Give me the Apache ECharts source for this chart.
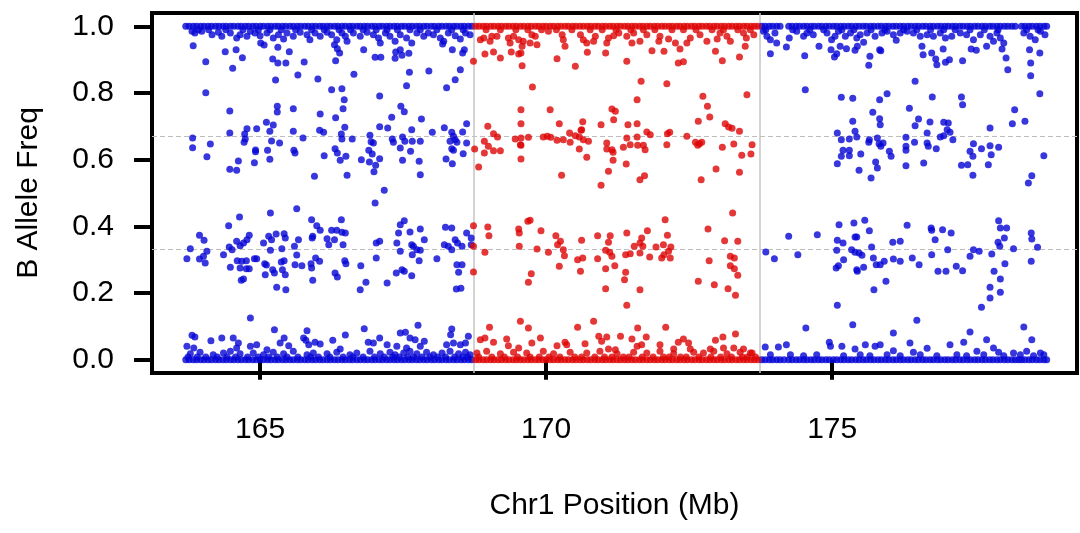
<!DOCTYPE html>
<html><head><meta charset="utf-8">
<script src="https://cdn.jsdelivr.net/npm/echarts@6/dist/echarts.min.js"></script>
<style>html,body{margin:0;padding:0;background:#fff}#c{width:1080px;height:533px}</style>
</head><body><div id="c"></div>
<script>
// ---- axis / reference values ----
const xTicks = [165, 170, 175];
const yTicks = [0, 0.2, 0.4, 0.6, 0.8, 1.0];
const hetLines = [0.333, 0.667];
const regionBounds = [168.73, 173.73];

// ---- dense homozygous bands (x positions, drawn at BAF 1.0 and 0.0) ----
const blueLeftBandX = [163.70,163.76,163.83,163.89,163.96,164.02,164.09,164.15,164.22,164.28,164.35,164.41,164.48,164.54,164.61,164.67,164.74,164.80,164.87,164.93,165.00,165.06,165.13,165.19,165.26,165.32,165.39,165.45,165.52,165.58,165.65,165.71,165.78,165.84,165.91,165.97,166.04,166.10,166.17,166.23,166.30,166.36,166.43,166.49,166.56,166.62,166.69,166.75,166.82,166.88,166.95,167.01,167.08,167.14,167.21,167.27,167.34,167.40,167.47,167.53,167.60,167.66,167.73,167.79,167.86,167.92,167.99,168.05,168.12,168.18,168.25,168.31,168.38,168.44,168.51,168.57,168.64,168.70];
const redBandX = [168.77,168.83,168.90,168.96,169.03,169.09,169.16,169.22,169.29,169.35,169.42,169.48,169.55,169.61,169.68,169.74,169.81,169.87,169.94,170.00,170.07,170.13,170.20,170.26,170.33,170.39,170.46,170.52,170.59,170.65,170.72,170.78,170.85,170.91,170.98,171.04,171.11,171.17,171.24,171.30,171.37,171.43,171.50,171.56,171.63,171.69,171.76,171.82,171.89,171.95,172.02,172.08,172.15,172.21,172.28,172.34,172.41,172.47,172.54,172.60,172.67,172.73,172.80,172.86,172.93,172.99,173.06,173.12,173.19,173.25,173.32,173.38,173.45,173.51,173.58,173.64,173.70];
const blueRightBandX = [173.77,173.83,173.90,173.96,174.03,174.09,174.24,174.30,174.37,174.43,174.50,174.56,174.63,174.69,174.76,174.82,174.89,174.95,175.02,175.08,175.15,175.21,175.28,175.34,175.41,175.47,175.54,175.60,175.67,175.73,175.80,175.86,175.93,175.99,176.06,176.12,176.19,176.25,176.32,176.38,176.45,176.51,176.58,176.64,176.71,176.77,176.84,176.90,176.97,177.03,177.10,177.16,177.23,177.29,177.36,177.42,177.49,177.55,177.62,177.68,177.75,177.81,177.88,177.94,178.01,178.07,178.14,178.20,178.31,178.37,178.44,178.50,178.57,178.63,178.70,178.75];

// ---- SNPs hugging the bands (x positions; near 0.99 and near 0.008) ----
const blueLeftNearTopX = [163.92,164.10,164.40,164.70,164.97,165.17,165.37,165.62,165.90,166.12,166.38,166.58,166.80,167.03,167.22,167.40,167.62,167.80,168.09,168.35,168.55];
const blueLeftNearBottomX = [163.74,163.90,164.05,164.25,164.42,164.57,164.78,164.97,165.15,165.30,165.47,165.66,165.88,166.02,166.22,166.45,166.62,166.80,167.00,167.17,167.32,167.43,167.58,167.68,167.83,167.97,168.10,168.24,168.40,168.54,168.63];
const redNearTopX = [168.95,169.20,169.47,169.68,169.92,170.18,170.45,170.77,170.98,171.22,171.48,171.70,171.90,172.20,172.40,172.62,172.90,173.10,173.35,173.57];
const redNearBottomX = [168.82,169.05,169.27,169.50,169.72,169.88,170.05,170.24,170.50,170.62,170.85,171.02,171.15,171.35,171.45,171.68,171.87,172.05,172.15,172.35,172.45,172.67,172.88,173.05,173.24,173.43,173.52,173.66];
const blueRightNearTopX = [173.84,174.31,174.61,174.85,175.17,175.38,175.68,175.92,176.25,176.48,176.72,176.95,177.15,177.41,177.66,177.90,178.40,178.60];

// ---- individual SNPs outside the red region (blue) ----
const blueLeftUpper = [[163.83,0.942],[164.05,0.894],[164.39,0.924],[164.58,0.93],[164.69,0.906],[164.52,0.874],[165.01,0.95],[165.07,0.944],[165.22,0.902],[165.31,0.937],[165.51,0.924],[165.31,0.89],[165.45,0.89],[165.77,0.893],[165.27,0.839],[165.66,0.854],[166.01,0.842],[166.32,0.897],[166.30,0.945],[166.39,0.92],[166.35,0.933],[166.81,0.93],[166.64,0.856],[167.01,0.907],[167.11,0.907],[167.37,0.923],[167.45,0.93],[167.48,0.913],[167.60,0.919],[167.36,0.904],[167.61,0.862],[167.95,0.866],[168.19,0.947],[168.36,0.93],[168.54,0.92],[168.57,0.93],[168.50,0.87],[168.41,0.84],[168.26,0.816],[167.56,0.822],[164.05,0.801],[166.43,0.813],[166.47,0.78],[166.25,0.81],[167.09,0.791],[164.47,0.746],[165.30,0.76],[165.30,0.743],[165.58,0.753],[166.45,0.753],[166.05,0.737],[166.32,0.726],[167.46,0.76],[167.52,0.744],[167.30,0.727],[167.82,0.722],[165.11,0.712],[165.23,0.704],[164.77,0.693],[164.94,0.693],[165.17,0.685],[165.58,0.685],[164.47,0.68],[164.73,0.677],[164.74,0.662],[164.72,0.652],[165.20,0.656],[165.34,0.65],[163.82,0.665],[163.82,0.636],[164.13,0.647],[164.07,0.609],[164.62,0.596],[164.47,0.571],[164.59,0.568],[164.92,0.629],[164.92,0.624],[165.13,0.628],[165.17,0.601],[164.90,0.591],[165.59,0.628],[165.61,0.62],[165.75,0.665],[166.04,0.688],[166.11,0.682],[166.12,0.612],[165.95,0.55],[166.31,0.633],[166.35,0.62],[166.50,0.61],[166.40,0.598],[166.42,0.677],[166.43,0.662],[166.48,0.697],[166.61,0.662],[166.52,0.553],[166.92,0.673],[166.94,0.654],[166.98,0.65],[166.90,0.628],[166.96,0.617],[166.77,0.60],[166.91,0.593],[167.02,0.583],[166.99,0.564],[167.09,0.699],[167.23,0.695],[167.09,0.603],[167.17,0.508],[167.31,0.662],[167.33,0.652],[167.49,0.668],[167.53,0.655],[167.45,0.635],[167.65,0.69],[167.66,0.655],[167.80,0.655],[167.63,0.625],[167.49,0.598],[167.78,0.595],[167.80,0.555],[168.01,0.682],[168.22,0.696],[168.35,0.682],[168.38,0.67],[168.54,0.683],[168.61,0.708],[168.32,0.655],[168.41,0.66],[168.44,0.652],[168.35,0.633],[168.38,0.628],[168.55,0.618],[168.61,0.65],[168.25,0.602],[168.36,0.588]];
const blueLeftTopFringe = [[163.81,0.985],[163.86,0.98],[163.98,0.985],[164.16,0.975],[164.27,0.982],[164.33,0.97],[164.48,0.98],[164.59,0.965],[164.65,0.975],[164.77,0.97],[164.83,0.985],[164.91,0.98],[165.00,0.972],[165.12,0.98],[165.23,0.965],[165.32,0.975],[165.41,0.962],[165.47,0.98],[165.58,0.97],[165.70,0.982],[165.82,0.975],[165.87,0.96],[165.96,0.98],[166.05,0.97],[166.17,0.982],[166.25,0.975],[166.34,0.96],[166.43,0.98],[166.49,0.97],[166.52,0.955],[166.63,0.98],[166.75,0.97],[166.87,0.982],[166.98,0.975],[167.07,0.965],[167.10,0.95],[167.19,0.98],[167.27,0.97],[167.36,0.955],[167.45,0.975],[167.56,0.965],[167.65,0.95],[167.74,0.98],[167.86,0.97],[167.94,0.98],[168.03,0.975],[168.15,0.965],[168.21,0.955],[168.29,0.98],[168.41,0.972],[168.50,0.962],[168.59,0.98],[168.67,0.975]];
const blueLeftLower = [[164.64,0.428],[165.18,0.44],[165.64,0.453],[167.01,0.47],[165.90,0.42],[165.99,0.402],[166.05,0.388],[166.42,0.42],[166.25,0.388],[166.34,0.388],[166.43,0.382],[166.49,0.38],[164.45,0.402],[163.94,0.373],[164.02,0.358],[163.78,0.333],[163.72,0.303],[163.94,0.302],[164.04,0.29],[164.01,0.31],[164.07,0.325],[164.36,0.315],[164.46,0.338],[164.51,0.33],[164.59,0.355],[164.65,0.342],[164.71,0.35],[164.77,0.36],[164.81,0.373],[164.60,0.297],[164.68,0.295],[164.76,0.297],[164.48,0.277],[164.65,0.275],[164.76,0.273],[164.81,0.273],[164.67,0.238],[164.71,0.242],[164.90,0.303],[164.94,0.303],[165.06,0.35],[165.15,0.37],[165.20,0.36],[165.28,0.377],[165.08,0.288],[165.11,0.284],[165.18,0.328],[165.22,0.27],[165.25,0.26],[165.09,0.255],[165.29,0.217],[165.38,0.333],[165.42,0.378],[165.44,0.365],[165.42,0.297],[165.37,0.293],[165.39,0.27],[165.44,0.255],[165.45,0.21],[165.60,0.34],[165.67,0.36],[165.64,0.314],[165.61,0.285],[165.73,0.282],[165.89,0.288],[165.90,0.275],[165.91,0.365],[165.92,0.37],[165.97,0.305],[166.04,0.295],[165.92,0.238],[166.17,0.363],[166.20,0.345],[166.30,0.36],[166.45,0.345],[166.31,0.26],[166.35,0.248],[166.48,0.297],[166.50,0.288],[166.76,0.282],[166.75,0.21],[166.85,0.232],[167.03,0.35],[167.09,0.355],[167.03,0.305],[167.22,0.23],[167.38,0.26],[167.48,0.27],[167.52,0.265],[167.65,0.252],[167.42,0.38],[167.45,0.405],[167.52,0.417],[167.62,0.383],[167.39,0.35],[167.45,0.325],[167.65,0.345],[167.68,0.34],[167.74,0.33],[167.80,0.328],[167.66,0.315],[167.78,0.297],[167.80,0.392],[167.87,0.36],[168.09,0.303],[168.24,0.397],[168.35,0.395],[168.22,0.345],[168.29,0.34],[168.35,0.33],[168.41,0.36],[168.45,0.35],[168.53,0.34],[168.61,0.38],[168.69,0.365],[168.69,0.345],[168.44,0.285],[168.53,0.285],[168.47,0.262],[168.43,0.212],[168.51,0.214]];
const blueLeftBottomFringe = [[164.83,0.125],[165.25,0.09],[165.82,0.087],[166.82,0.093],[167.76,0.103],[168.35,0.092],[168.33,0.075],[163.81,0.073],[163.86,0.068],[163.72,0.04],[163.84,0.035],[164.14,0.057],[164.33,0.065],[164.53,0.065],[164.62,0.05],[164.59,0.035],[164.83,0.04],[164.94,0.045],[165.12,0.03],[165.35,0.05],[165.42,0.065],[165.50,0.042],[165.76,0.065],[165.80,0.058],[165.85,0.045],[165.96,0.052],[166.05,0.047],[166.27,0.058],[166.40,0.032],[166.49,0.074],[166.89,0.052],[166.98,0.05],[167.09,0.065],[167.22,0.045],[167.45,0.08],[167.54,0.082],[167.62,0.065],[167.71,0.06],[167.87,0.055],[167.39,0.04],[167.56,0.035],[167.80,0.04],[168.26,0.045],[168.38,0.05],[168.50,0.045],[168.59,0.05],[168.64,0.07],[163.78,0.018],[163.95,0.022],[164.18,0.015],[164.36,0.02],[164.48,0.025],[164.65,0.018],[164.88,0.02],[165.06,0.015],[165.23,0.022],[165.41,0.018],[165.58,0.025],[165.82,0.015],[165.93,0.02],[166.17,0.018],[166.34,0.022],[166.57,0.015],[166.69,0.02],[166.92,0.025],[167.10,0.018],[167.27,0.022],[167.36,0.015],[167.51,0.02],[167.62,0.025],[167.74,0.018],[167.91,0.022],[168.03,0.015],[168.18,0.02],[168.32,0.025],[168.47,0.018],[168.59,0.022],[168.67,0.015]];
const blueRightUpper = [[173.92,0.918],[174.20,0.938],[174.52,0.912],[174.53,0.81],[174.77,0.94],[174.98,0.93],[175.04,0.908],[175.08,0.918],[175.14,0.94],[175.25,0.933],[175.40,0.928],[175.44,0.94],[175.55,0.952],[175.66,0.91],[175.64,0.883],[175.83,0.93],[175.85,0.927],[176.12,0.958],[176.45,0.835],[176.57,0.94],[176.59,0.915],[176.74,0.92],[176.81,0.902],[176.83,0.885],[176.94,0.932],[176.98,0.892],[177.05,0.9],[177.28,0.897],[177.43,0.932],[177.52,0.928],[177.70,0.94],[177.97,0.932],[178.04,0.905],[178.07,0.87],[178.45,0.93],[178.47,0.89],[178.47,0.852],[178.63,0.92],[178.63,0.798],[175.16,0.787],[175.36,0.784],[175.83,0.78],[175.96,0.798],[175.71,0.742],[176.35,0.754],[176.75,0.788],[177.26,0.788],[177.28,0.765],[178.19,0.75],[178.15,0.708],[178.37,0.715],[175.36,0.715],[175.40,0.685],[175.43,0.668],[175.83,0.723],[175.84,0.705],[175.79,0.665],[175.09,0.68],[175.16,0.66],[175.30,0.662],[175.19,0.628],[175.16,0.61],[175.30,0.628],[175.30,0.612],[175.09,0.588],[175.47,0.568],[175.50,0.617],[175.64,0.652],[175.65,0.66],[175.82,0.648],[175.85,0.64],[175.89,0.65],[176.00,0.625],[176.03,0.61],[175.76,0.593],[175.79,0.575],[175.68,0.545],[176.29,0.667],[176.29,0.64],[176.29,0.628],[176.44,0.652],[176.29,0.582],[176.45,0.702],[176.51,0.722],[176.71,0.713],[176.66,0.68],[176.66,0.65],[176.68,0.64],[176.82,0.633],[176.60,0.59],[176.89,0.668],[176.95,0.672],[176.95,0.712],[177.03,0.71],[177.01,0.69],[177.06,0.682],[177.11,0.66],[177.47,0.648],[177.41,0.625],[177.46,0.61],[177.61,0.633],[177.76,0.642],[177.78,0.615],[177.91,0.637],[177.26,0.583],[177.37,0.585],[177.46,0.553],[177.73,0.585],[177.76,0.695],[178.70,0.612],[178.43,0.53],[178.49,0.552]];
const blueRightTopFringe = [[173.80,0.985],[173.86,0.97],[173.92,0.96],[174.00,0.98],[174.03,0.95],[174.25,0.965],[174.38,0.985],[174.50,0.97],[174.56,0.98],[174.67,0.975],[174.91,0.98],[174.99,0.96],[175.05,0.97],[175.11,0.985],[175.23,0.97],[175.32,0.98],[175.43,0.965],[175.49,0.975],[175.61,0.98],[175.75,0.97],[175.87,0.98],[175.96,0.985],[176.07,0.975],[176.19,0.98],[176.31,0.985],[176.42,0.98],[176.54,0.97],[176.66,0.975],[176.77,0.97],[176.89,0.98],[176.98,0.965],[177.09,0.97],[177.24,0.98],[177.35,0.975],[177.47,0.96],[177.59,0.975],[177.76,0.97],[177.82,0.955],[177.88,0.98],[177.94,0.965],[178.00,0.95],[178.35,0.98],[178.46,0.97],[178.55,0.96],[178.64,0.985],[178.72,0.975]];
const blueRightLower = [[173.84,0.323],[173.99,0.303],[174.24,0.37],[174.40,0.315],[174.74,0.375],[175.12,0.405],[175.09,0.358],[175.19,0.35],[175.08,0.328],[175.20,0.3],[175.07,0.275],[175.11,0.282],[175.38,0.41],[175.40,0.368],[175.43,0.368],[175.57,0.418],[175.65,0.387],[175.34,0.33],[175.40,0.322],[175.47,0.32],[175.52,0.313],[175.55,0.277],[175.43,0.27],[175.44,0.265],[175.69,0.338],[175.72,0.305],[175.77,0.285],[175.84,0.285],[175.91,0.295],[175.73,0.21],[175.94,0.235],[176.06,0.352],[176.19,0.355],[176.07,0.302],[176.19,0.295],[176.31,0.403],[176.40,0.305],[176.52,0.285],[176.73,0.395],[176.74,0.388],[176.80,0.36],[176.93,0.39],[177.08,0.38],[176.74,0.315],[176.85,0.265],[176.99,0.265],[177.02,0.33],[177.17,0.28],[177.28,0.267],[177.41,0.31],[177.47,0.33],[177.57,0.325],[177.79,0.317],[177.83,0.265],[177.94,0.242],[177.76,0.217],[177.94,0.202],[177.76,0.185],[177.61,0.157],[177.91,0.417],[177.94,0.395],[178.05,0.395],[178.01,0.365],[177.90,0.352],[177.93,0.34],[178.02,0.288],[178.17,0.333],[178.48,0.38],[178.49,0.362],[178.59,0.337],[178.48,0.295],[175.09,0.163],[176.48,0.118],[174.54,0.095],[175.36,0.105],[178.35,0.098],[177.41,0.083],[176.07,0.08],[178.49,0.06]];
const blueRightBottomFringe = [[173.83,0.038],[174.06,0.038],[174.20,0.045],[174.95,0.052],[174.97,0.04],[175.17,0.04],[175.40,0.032],[175.58,0.045],[175.75,0.04],[175.84,0.045],[176.07,0.027],[176.36,0.05],[176.42,0.022],[176.66,0.034],[177.06,0.045],[177.30,0.052],[177.53,0.025],[177.70,0.06],[177.82,0.035],[177.91,0.022],[178.17,0.02],[178.40,0.025],[178.64,0.02],[173.92,0.015],[174.27,0.015],[174.50,0.012],[174.73,0.015],[175.20,0.012],[175.49,0.015],[175.66,0.012],[175.96,0.015],[176.19,0.012],[176.54,0.015],[176.83,0.012],[177.18,0.015],[177.35,0.012],[177.65,0.015],[178.00,0.012],[178.29,0.015],[178.52,0.012],[178.70,0.015],[174.16,0],[178.26,0]];

// ---- individual SNPs inside the highlighted region (red) ----
const redUpper = [[168.73,0.895],[168.93,0.917],[169.08,0.923],[169.20,0.905],[169.39,0.923],[169.52,0.917],[169.56,0.92],[169.58,0.882],[169.76,0.818],[169.56,0.75],[169.56,0.708],[169.56,0.665],[169.56,0.643],[169.56,0.602],[170.07,0.75],[170.19,0.903],[170.51,0.88],[170.72,0.922],[171.04,0.92],[171.41,0.895],[171.66,0.835],[171.59,0.78],[171.85,0.927],[172.06,0.925],[172.11,0.828],[172.31,0.89],[172.40,0.894],[172.34,0.932],[172.74,0.79],[172.82,0.76],[172.86,0.728],[172.96,0.925],[173.08,0.897],[173.38,0.908],[173.48,0.94],[173.51,0.795],[171.15,0.752],[171.21,0.745],[171.18,0.72],[170.23,0.708],[170.64,0.714],[170.62,0.69],[170.96,0.705],[171.43,0.705],[171.59,0.708],[168.98,0.7],[169.08,0.678],[169.15,0.668],[168.92,0.655],[168.99,0.64],[169.08,0.627],[169.20,0.627],[168.92,0.62],[168.82,0.578],[168.75,0.632],[169.46,0.662],[169.55,0.645],[169.69,0.667],[169.95,0.668],[170.02,0.67],[170.08,0.667],[170.19,0.658],[170.30,0.66],[170.41,0.68],[170.42,0.652],[170.51,0.672],[170.58,0.668],[170.65,0.66],[170.74,0.655],[170.58,0.632],[170.71,0.607],[170.27,0.553],[170.61,0.688],[170.96,0.523],[171.06,0.65],[171.06,0.632],[171.15,0.63],[171.17,0.622],[171.17,0.598],[171.09,0.565],[171.35,0.637],[171.41,0.665],[171.47,0.645],[171.40,0.587],[171.59,0.668],[171.60,0.643],[171.70,0.643],[171.73,0.63],[171.64,0.54],[171.72,0.552],[171.76,0.683],[171.82,0.675],[172.11,0.645],[172.12,0.678],[172.16,0.682],[172.46,0.67],[172.61,0.652],[172.68,0.648],[172.72,0.652],[172.65,0.643],[172.66,0.715],[172.71,0.54],[172.97,0.572],[173.08,0.637],[173.13,0.708],[173.19,0.698],[173.25,0.694],[173.38,0.685],[173.28,0.647],[173.42,0.613],[173.58,0.617],[173.60,0.645],[173.38,0.562]];
const redTopFringe = [[168.85,0.96],[168.91,0.965],[169.02,0.955],[169.05,0.97],[169.14,0.97],[169.34,0.965],[169.37,0.95],[169.43,0.97],[169.52,0.96],[169.58,0.94],[169.60,0.955],[169.72,0.95],[169.75,0.975],[169.84,0.945],[169.81,0.97],[170.04,0.985],[170.28,0.975],[170.33,0.94],[170.30,0.96],[170.60,0.975],[170.65,0.96],[170.71,0.95],[170.83,0.955],[170.86,0.97],[171.06,0.95],[171.09,0.965],[171.18,0.972],[171.27,0.98],[171.41,0.97],[171.50,0.95],[171.53,0.98],[171.64,0.955],[171.76,0.975],[171.97,0.955],[171.99,0.97],[172.14,0.962],[172.26,0.95],[172.46,0.95],[172.52,0.965],[172.69,0.975],[172.81,0.955],[172.99,0.962],[173.04,0.98],[173.16,0.97],[173.22,0.955],[173.45,0.98],[173.50,0.965],[173.63,0.975]];
const redLower = [[168.73,0.402],[168.73,0.34],[168.73,0.263],[168.98,0.398],[169.00,0.372],[168.93,0.322],[169.52,0.392],[169.53,0.38],[169.53,0.34],[169.68,0.415],[169.72,0.418],[169.91,0.387],[169.84,0.332],[169.74,0.258],[169.69,0.232],[170.04,0.322],[170.17,0.372],[170.25,0.355],[170.20,0.345],[170.30,0.33],[170.32,0.312],[170.23,0.28],[170.62,0.358],[170.55,0.3],[170.64,0.305],[170.60,0.265],[170.90,0.372],[170.90,0.303],[171.09,0.352],[171.12,0.372],[171.04,0.328],[171.11,0.322],[171.15,0.31],[171.04,0.273],[171.20,0.282],[171.04,0.213],[171.41,0.38],[171.39,0.315],[171.47,0.318],[171.39,0.262],[171.37,0.24],[171.41,0.163],[171.54,0.34],[171.64,0.35],[171.67,0.365],[171.69,0.34],[171.64,0.32],[171.77,0.387],[171.81,0.308],[171.64,0.21],[171.92,0.338],[172.05,0.345],[172.08,0.42],[172.12,0.373],[172.18,0.338],[172.02,0.305],[172.06,0.315],[172.14,0.325],[172.17,0.305],[172.66,0.235],[172.83,0.392],[172.85,0.297],[172.94,0.225],[173.12,0.357],[173.18,0.213],[173.26,0.44],[173.35,0.355],[173.22,0.31],[173.29,0.305],[173.22,0.282],[173.29,0.273],[173.35,0.253],[173.31,0.193]];
const redBottomFringe = [[169.55,0.115],[169.01,0.097],[169.69,0.095],[170.83,0.115],[170.55,0.097],[171.60,0.095],[172.09,0.097],[173.31,0.077],[173.09,0.068],[168.85,0.06],[168.93,0.065],[169.08,0.052],[169.31,0.062],[169.34,0.042],[169.52,0.035],[169.75,0.05],[169.90,0.065],[170.19,0.042],[170.33,0.052],[170.36,0.045],[170.68,0.048],[170.92,0.07],[170.97,0.055],[171.06,0.068],[171.09,0.032],[171.30,0.07],[171.21,0.03],[171.50,0.062],[171.59,0.04],[171.67,0.045],[171.75,0.068],[171.99,0.045],[172.23,0.032],[172.31,0.052],[172.40,0.062],[172.49,0.05],[172.52,0.032],[172.87,0.032],[172.96,0.058],[173.10,0.035],[173.28,0.035],[173.45,0.032],[173.57,0.02],[168.79,0.02],[168.96,0.025],[169.20,0.018],[169.43,0.022],[169.66,0.02],[169.95,0.025],[170.13,0.018],[170.42,0.022],[170.71,0.02],[170.94,0.025],[171.24,0.018],[171.53,0.022],[171.76,0.02],[171.99,0.025],[172.23,0.018],[172.58,0.022],[172.75,0.02],[172.93,0.025],[173.16,0.018],[173.39,0.022],[173.60,0.02]];

// ---- build series data ----
const band = (xs, y) => xs.map(x => [x, y]);
const blueData = [].concat(
  band(blueLeftBandX, 1), band(blueLeftBandX, 0),
  band(blueRightBandX, 1), band(blueRightBandX, 0),
  band(blueLeftNearTopX, 0.99), band(blueLeftNearBottomX, 0.008), band(blueRightNearTopX, 0.99),
  blueLeftUpper, blueLeftTopFringe, blueLeftLower, blueLeftBottomFringe,
  blueRightUpper, blueRightTopFringe, blueRightLower, blueRightBottomFringe);
const redData = [].concat(band(redBandX, 1), band(redBandX, 0),
  band(redNearTopX, 0.99), band(redNearBottomX, 0.008),
  redUpper, redTopFringe, redLower, redBottomFringe);

const FONT = '"Liberation Sans", Arial, Helvetica, sans-serif';
const chart = echarts.init(document.getElementById('c'), null, {renderer: 'canvas'});
const guide = [];
hetLines.forEach(v => guide.push({yAxis: v, lineStyle: {type: [5, 3], color: '#bdbdbd', width: 1}}));
regionBounds.forEach(v => guide.push({xAxis: v, lineStyle: {type: 'solid', color: '#c4c4c4', width: 1.5}}));

chart.setOption({
  animation: false,
  backgroundColor: '#ffffff',
  grid: {left: 152, right: 3, top: 13, bottom: 160, show: true, borderColor: '#000', borderWidth: 4, backgroundColor: 'transparent'},
  xAxis: {
    type: 'value', min: 163.11, max: 179.28,
    axisLine: {show: false}, splitLine: {show: false},
    axisTick: {show: true, customValues: xTicks, length: 20, lineStyle: {color: '#000', width: 4}},
    axisLabel: {customValues: xTicks, fontSize: 30, color: '#000', fontFamily: FONT, margin: 42},
    name: 'Chr1 Position (Mb)', nameLocation: 'middle', nameGap: 118,
    nameTextStyle: {fontSize: 30, color: '#000', fontFamily: FONT}
  },
  yAxis: {
    type: 'value', min: -0.04, max: 1.04,
    axisLine: {show: false}, splitLine: {show: false},
    axisTick: {show: true, customValues: yTicks, length: 18, lineStyle: {color: '#000', width: 4}},
    axisLabel: {customValues: yTicks, fontSize: 30, color: '#000', fontFamily: FONT, margin: 38,
      formatter: v => Number(v).toFixed(1)},
    name: 'B Allele Freq', nameLocation: 'middle', nameGap: 108,
    nameTextStyle: {fontSize: 30, color: '#000', fontFamily: FONT}
  },
  series: [
    {type: 'scatter', data: [], silent: true,
     markLine: {silent: true, symbol: 'none', z: 1, label: {show: false}, emphasis: {disabled: true}, data: guide}},
    {type: 'scatter', name: 'outside', data: blueData, symbol: 'circle', symbolSize: 7, z: 2,
     itemStyle: {color: '#0505d5'}, progressive: 0, large: false, silent: true},
    {type: 'scatter', name: 'region', data: redData, symbol: 'circle', symbolSize: 7, z: 2,
     itemStyle: {color: '#dd0505'}, progressive: 0, large: false, silent: true}
  ]
});
</script>
</body></html>
